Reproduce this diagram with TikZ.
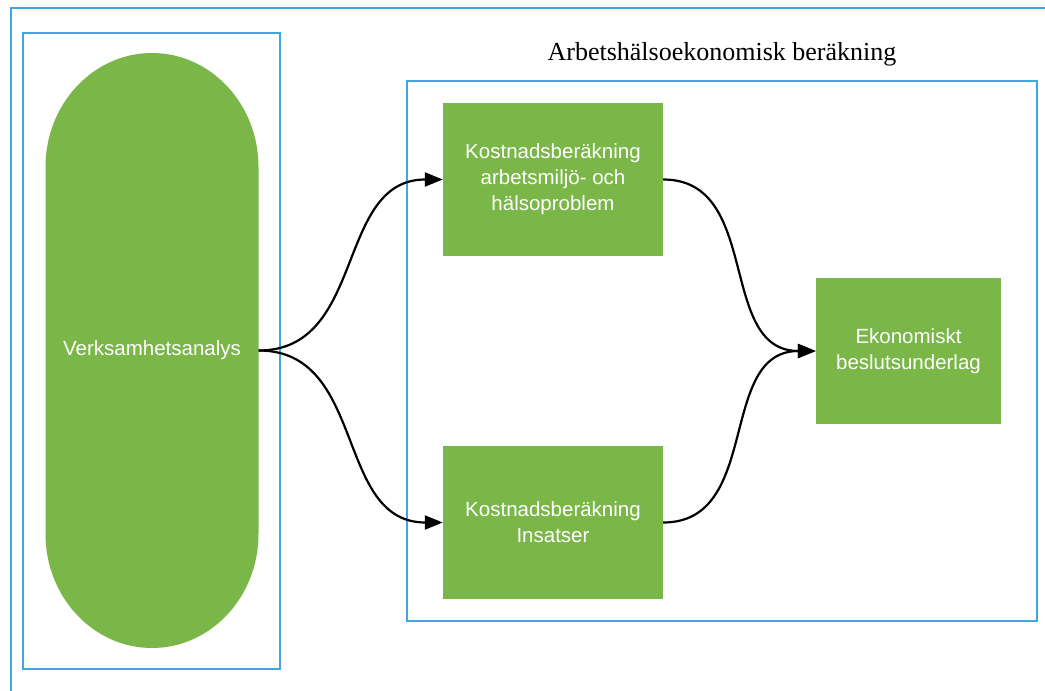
\documentclass[tikz,border=0pt]{standalone}
\usepackage{fontspec}
\newfontfamily\boxfont{Liberation Sans}
\newfontfamily\titlefont{Liberation Serif}
\usetikzlibrary{arrows.meta}
\definecolor{vgreen}{HTML}{7AB648}
\definecolor{fblue}{HTML}{41A6E0}
\tikzset{
  frame/.style={draw=fblue, line width=2.3pt},
  greenbox/.style={rectangle, fill=vgreen, draw=none, text=white,
    font=\boxfont\fontsize{20.5}{26}\selectfont, align=center, inner sep=0pt},
  conn/.style={draw=black, line width=2.2pt,
    -{Triangle[length=18pt,width=14pt]}, out=0, in=180, looseness=1.1}
}
\begin{document}
\begin{tikzpicture}[x=1pt,y=-1pt]
\useasboundingbox (0,0) rectangle (1045,691);
% outer frame (clipped at right and bottom)
\draw[frame] (11,691) -- (11,8) -- (1045,8);
% left frame
\draw[frame] (23,33) rectangle (280,669);
% right frame
\draw[frame] (407,81) rectangle (1037,621);
% title
\node[anchor=base, font=\titlefont\fontsize{26}{30}\selectfont] (title) at (722,60.5) {Arbetshälsoekonomisk beräkning};
% pill shape
\fill[vgreen] (45.5,167) -- (45.5,534)
  arc[start angle=180, end angle=0, x radius=106.5, y radius=114]
  -- (258.5,167)
  arc[start angle=0, end angle=-180, x radius=106.5, y radius=114] -- cycle;
\node[greenbox, fill=none, minimum width=213pt, minimum height=595pt] (va) at (152,350.5) {Verksamhetsanalys};
% boxes
\node[greenbox, minimum width=220pt, minimum height=153pt] (k1) at (553,179.5)
  {Kostnadsberäkning\\arbetsmiljö- och\\hälsoproblem};
\node[greenbox, minimum width=220pt, minimum height=153pt] (k2) at (553,522.5)
  {Kostnadsberäkning\\Insatser};
\node[greenbox, minimum width=185pt, minimum height=146pt] (eb) at (908.5,351)
  {Ekonomiskt\\beslutsunderlag};
% connectors
\draw[conn] (va.east) to (k1.west);
\draw[conn] (va.east) to (k2.west);
\draw[conn] (k1.east) to (eb.west);
\draw[conn] (k2.east) to (eb.west);
\end{tikzpicture}
\end{document}
